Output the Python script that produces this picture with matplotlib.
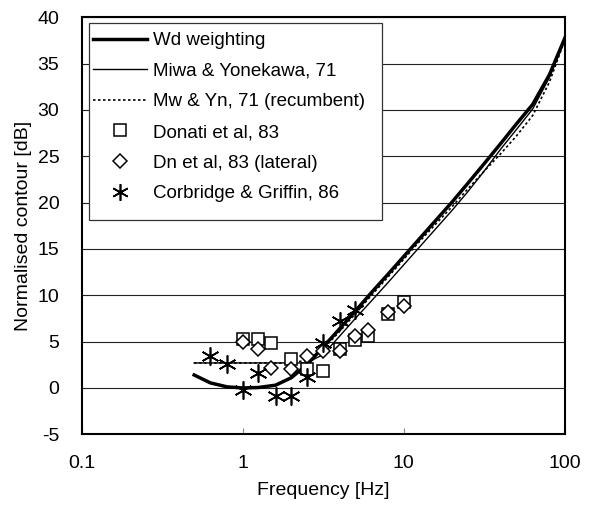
import matplotlib
matplotlib.use("Agg")
import matplotlib.pyplot as plt
from matplotlib.lines import Line2D
from matplotlib.patches import Rectangle

plt.rcParams['font.family'] = ['Liberation Sans', 'DejaVu Sans']
plt.rcParams['axes.unicode_minus'] = False

# --- data ---
freq_lines = [0.5, 0.63, 0.8, 1.0, 1.25, 1.6, 2.0, 2.5, 3.15, 4.0, 5.0, 6.3,
              8.0, 10.0, 12.5, 16.0, 20.0, 25.0, 31.5, 40.0, 50.0, 63.0, 80.0, 100.0]
wd_weighting = [1.4, 0.55, 0.12, 0.0, 0.05, 0.3, 1.1, 2.5, 4.4, 6.4, 8.3, 10.3,
                12.3, 14.2, 16.1, 18.2, 20.1, 22.1, 24.2, 26.4, 28.5, 30.6, 33.8, 37.8]
miwa = [2.7, 2.7, 2.7, 2.7, 2.7, 2.7, 2.7, 2.7, 3.6, 5.6, 7.5, 9.4,
        11.4, 13.3, 15.2, 17.3, 19.2, 21.2, 23.4, 25.8, 27.9, 30.1, 33.5, 37.6]
miwa_recumbent = [2.7, 2.7, 2.7, 2.7, 2.7, 2.7, 2.7, 3.0, 4.2, 6.1, 8.0, 10.0,
                  12.0, 13.9, 15.8, 17.8, 19.6, 21.5, 23.4, 25.3, 27.2, 29.4, 33.0, 37.6]

donati_f = [1.0, 1.25, 1.5, 2.0, 2.5, 3.15, 4.0, 5.0, 6.0, 8.0, 10.0]
donati_v = [5.3, 5.3, 4.9, 3.1, 2.0, 1.85, 4.2, 5.2, 5.6, 8.0, 9.3]
lateral_f = [1.0, 1.25, 1.5, 2.0, 2.5, 3.15, 4.0, 5.0, 6.0, 8.0, 10.0]
lateral_v = [5.0, 4.2, 2.2, 2.1, 3.4, 4.0, 4.0, 5.6, 6.3, 8.2, 8.8]
corbridge_f = [0.63, 0.8, 1.0, 1.25, 1.6, 2.0, 2.5, 3.15, 4.0, 5.0]
corbridge_v = [3.4, 2.6, -0.2, 1.6, -0.9, -0.9, 1.2, 4.8, 7.2, 8.4]

x_ticks = [0.1, 1, 10, 100]
x_tick_labels = ['0.1', '1', '10', '100']
y_ticks = [-5, 0, 5, 10, 15, 20, 25, 30, 35, 40]

W, H = 591, 511
fig = plt.figure(figsize=(W / 100, H / 100), dpi=100)
L, R, T, B = 81.5, 565, 17.3, 434.3
ax = fig.add_axes([L / W, 1 - B / H, (R - L) / W, (B - T) / H])

FS = 14
ax.set_xscale('log')
ax.set_xlim(0.1, 100)
ax.set_ylim(-5, 40)
ax.set_xticks(x_ticks)
ax.set_xticklabels(x_tick_labels)
ax.xaxis.set_minor_locator(matplotlib.ticker.NullLocator())
ax.set_yticks(y_ticks)
ax.tick_params(axis='x', direction='in', length=4, width=0.8, color='#888888',
               pad=15, labelsize=FS)
ax.tick_params(axis='y', length=0, pad=16, labelsize=FS)
ax.yaxis.grid(True, color='#222222', linewidth=0.8)
ax.set_axisbelow(True)
for s in ax.spines.values():
    s.set_linewidth(1.5)
    s.set_color('black')

ax.set_xlabel('Frequency [Hz]', fontsize=FS, labelpad=7)
ax.set_ylabel('Normalised contour [dB]', fontsize=FS, labelpad=4)

ax.plot(freq_lines, miwa, color='black', linewidth=1.0, label='Miwa & Yonekawa, 71')
ax.plot(freq_lines, miwa_recumbent, color='black', linewidth=1.2, linestyle=(0, (1.5, 1.5)),
        label='Mw & Yn, 71 (recumbent)')
ax.plot(freq_lines, wd_weighting, color='black', linewidth=2.5, label='Wd weighting')
ax.plot(donati_f, donati_v, linestyle='none', marker='s', markersize=9,
        markerfacecolor='white', markeredgecolor='black', markeredgewidth=1.1,
        label='Donati et al, 83')
ax.plot(lateral_f, lateral_v, linestyle='none', marker='D', markersize=7.5,
        markerfacecolor='white', markeredgecolor='black', markeredgewidth=1.1,
        label='Dn et al, 83 (lateral)')
ax.plot(corbridge_f, corbridge_v, linestyle='none', marker=(6, 2, 0), markersize=13,
        markeredgecolor='black', markeredgewidth=1.2, label='Corbridge & Griffin, 86')

# legend frame (opaque box drawn above the data, below the legend text)
ax.add_patch(Rectangle((89 / W, 1 - 220 / H), (382 - 89) / W, (220 - 23) / H,
                       transform=fig.transFigure, fill=True, facecolor='white',
                       edgecolor='#333333', linewidth=0.9, zorder=4, clip_on=False))

handles = [
    Line2D([], [], color='black', linewidth=2.5),
    Line2D([], [], color='black', linewidth=1.0),
    Line2D([], [], color='black', linewidth=1.2, linestyle=(0, (1.5, 1.5))),
    Line2D([], [], linestyle='none', marker='s', markersize=8, markerfacecolor='white',
           markeredgecolor='black', markeredgewidth=1.1),
    Line2D([], [], linestyle='none', marker='D', markersize=7, markerfacecolor='white',
           markeredgecolor='black', markeredgewidth=1.1),
    Line2D([], [], linestyle='none', marker=(6, 2, 0), markersize=12,
           markeredgecolor='black', markeredgewidth=1.2),
]
labels = ['Wd weighting', 'Miwa & Yonekawa, 71', 'Mw & Yn, 71 (recumbent)',
          'Donati et al, 83', 'Dn et al, 83 (lateral)', 'Corbridge & Griffin, 86']
LFS = 13.5
leg = ax.legend(handles, labels, loc='upper left', frameon=False, fontsize=LFS,
                bbox_to_anchor=((93 - L) / (R - L), (B - 32) / (B - T)),
                borderaxespad=0, borderpad=0, handlelength=2.9, handletextpad=0.32,
                labelspacing=0.72)
leg.set_zorder(6)

fig.savefig('out.png', dpi=100, facecolor='white')
